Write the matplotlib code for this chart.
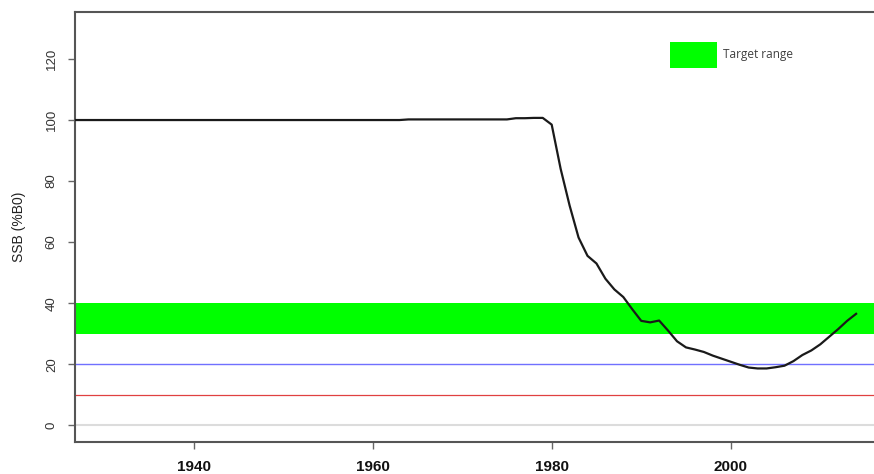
import numpy as np
import matplotlib.pyplot as plt
from matplotlib.patches import Patch

# spawning stock biomass as % of B0
years = list(range(1926, 2015))
ssb_early = [100.0] * (1964 - 1926) + [100.2] * (1976 - 1964) + [100.6, 100.6, 100.7, 100.7]
ssb_late = [98.5, 84.0, 72.0, 61.5, 55.5, 53.0, 48.0, 44.5, 42.0, 38.0,
            34.2, 33.7, 34.3, 31.0, 27.5, 25.5, 24.8, 24.0, 22.8, 21.8,
            20.8, 19.8, 18.9, 18.6, 18.6, 19.0, 19.5, 21.0, 23.0, 24.5,
            26.5, 29.0, 31.5, 34.2, 36.5]
ssb = ssb_early + ssb_late

target_lo, target_hi = 30, 40
soft_limit = 20
hard_limit = 10
yticks = [0, 20, 40, 60, 80, 100, 120]
xticks = [1940, 1960, 1980, 2000]

fig = plt.figure(figsize=(8.74, 4.74), dpi=100)
ax = fig.add_axes([74.5 / 874, 1 - 441.7 / 474, 1 - 74.5 / 874, (441.7 - 12) / 474])

ax.axhspan(target_lo, target_hi, color='#00ff00', lw=0, zorder=1)
ax.axhline(0, color='#dcdcdc', lw=1.5, zorder=1)
ax.axhline(soft_limit, color='#7070ff', lw=1.0, zorder=2)
ax.axhline(hard_limit, color='#e04040', lw=0.9, zorder=2)
ax.plot(years, ssb, color='#1a1a1a', lw=1.6, zorder=3)

ax.set_xlim(1926.7, 2016.0)
ax.set_ylim(-5.4, 135.4)
ax.set_yticks(yticks)
ax.set_xticks(xticks)
ax.set_yticklabels([str(v) for v in yticks], rotation=90, va='center',
                   fontsize=9.5, color='#333333', family='Liberation Sans')
ax.set_xticklabels([str(v) for v in xticks], fontsize=11, fontweight='bold',
                   color='#111111', family='Liberation Sans')
ax.tick_params(axis='both', direction='out', length=5, width=1, color='#666666')
ax.tick_params(axis='x', pad=8)
ax.tick_params(axis='y', pad=7)
ax.set_ylabel('SSB (%B0)', fontsize=10, color='#222222', family='Liberation Sans', labelpad=14)

for s in ['left', 'bottom', 'top']:
    ax.spines[s].set_color('#555555')
    ax.spines[s].set_linewidth(1.5)
ax.spines['right'].set_visible(False)

ax.legend(handles=[Patch(facecolor='#00ff00', edgecolor='none', label='Target range')],
          loc='center left', bbox_to_anchor=(670 / 874, 1 - 55 / 474),
          bbox_transform=fig.transFigure, frameon=False,
          handlelength=4.0, handleheight=3.0, handletextpad=0.5,
          borderpad=0, borderaxespad=0, labelcolor='#404040',
          prop={'family': 'Open Sans', 'size': 8.5})

fig.savefig('out.png', dpi=100)
